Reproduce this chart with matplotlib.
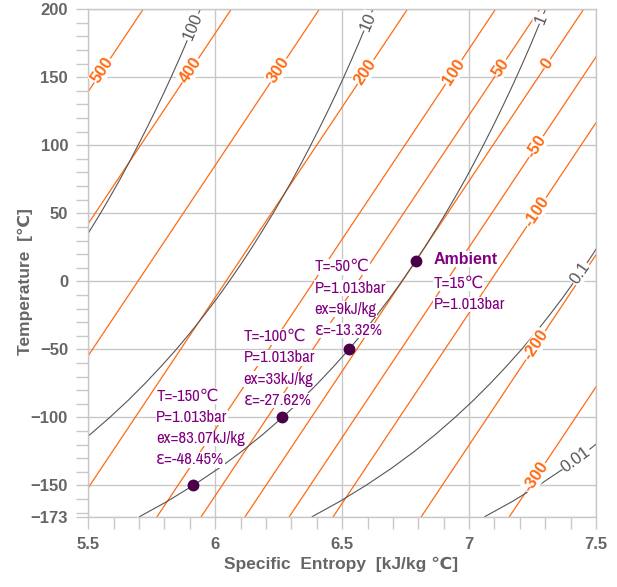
import numpy as np
import matplotlib.pyplot as plt
from matplotlib import font_manager

# ---------------------- DATOS ---------------------- #
# Temperaturas (°C) donde se leyeron las isobaras
T_grid = [-173, -162, -150, -137.5, -125, -112.5, -100, -87.5, -75, -62.5, -50, -37.5, -25, -12.5, 0,
          12.5, 25, 37.5, 50, 62.5, 75, 87.5, 100, 112.5, 125, 137.5, 150, 162.5, 175, 187.5, 200]

# Entropia (kJ/kg°C) de cada isobara en T_grid
s_p100 = [4.342, 4.449, 4.554, 4.654, 4.745, 4.828, 4.905, 4.977, 5.044, 5.107, 5.167, 5.223, 5.276, 5.327, 5.375,
          5.421, 5.465, 5.507, 5.548, 5.587, 5.625, 5.661, 5.696, 5.730, 5.763, 5.795, 5.826, 5.856, 5.885, 5.913, 5.941]
s_p10 = [5.022, 5.129, 5.234, 5.334, 5.425, 5.508, 5.585, 5.657, 5.724, 5.787, 5.847, 5.903, 5.956, 6.007, 6.055,
         6.101, 6.145, 6.187, 6.228, 6.267, 6.305, 6.341, 6.376, 6.410, 6.443, 6.475, 6.506, 6.536, 6.565, 6.593, 6.621]
s_p1 = [5.702, 5.809, 5.914, 6.014, 6.105, 6.188, 6.265, 6.337, 6.404, 6.467, 6.527, 6.583, 6.636, 6.687, 6.735,
        6.781, 6.825, 6.867, 6.908, 6.947, 6.985, 7.021, 7.056, 7.090, 7.123, 7.155, 7.186, 7.216, 7.245, 7.273, 7.301]
s_p01 = [6.382, 6.489, 6.594, 6.694, 6.785, 6.868, 6.945, 7.017, 7.084, 7.147, 7.207, 7.263, 7.316, 7.367, 7.415,
         7.461, 7.505, 7.547, 7.588, 7.627, 7.665, 7.701, 7.736, 7.770, 7.803, 7.835, 7.866, 7.896, 7.925, 7.953, 7.981]
s_p001 = [7.062, 7.169, 7.274, 7.374, 7.465, 7.548, 7.625, 7.697, 7.764, 7.827, 7.887, 7.943, 7.996, 8.047, 8.095,
          8.141, 8.185, 8.227, 8.268, 8.307, 8.345, 8.381, 8.416, 8.450, 8.483, 8.515, 8.546, 8.576, 8.605, 8.633, 8.661]
p_labels = ["100", "10", "1", "0.1", "0.01"]
p_label_T = [187, 191, 193, 6, -131]   # donde va cada etiqueta

# Lineas de exergia constante (rectas): entropia en T=-173 y T=200
ex_values = [500, 400, 300, 200, 100, 50, 0, -50, -100, -200, -300]
ex_s_bot = [4.383, 4.730, 5.077, 5.424, 5.771, 5.945, 6.118, 6.292, 6.465, 6.812, 7.159]
ex_s_top = [5.716, 6.063, 6.410, 6.757, 7.104, 7.278, 7.451, 7.625, 7.798, 8.145, 8.492]
ex_T_ends = [-173, 200]
ex_label_T = [155, 155, 155, 154, 154, 157, 160, 99, 51, -47, -144]

# Puntos de estado
pt_T = [-150, -100, -50, 15]
pt_s = [5.912, 6.265, 6.527, 6.789]
pt_text = [["T=-150\u2103", "P=1.013bar", "ex=83.07kJ/kg", "\u03b5=-48.45%"],
           ["T=-100\u2103", "P=1.013bar", "ex=33kJ/kg", "\u03b5=-27.62%"],
           ["T=-50\u2103", "P=1.013bar", "ex=9kJ/kg", "\u03b5=-13.32%"],
           ["T=15\u2103", "P=1.013bar"]]
txt_s = [5.768, 6.112, 6.392, 6.86]
txt_T = [-84.4, -40.7, 10.7, -1.5]   # centro de la primera linea

y_major = [200, 150, 100, 50, 0, -50, -100, -150, -173]
x_major = [5.5, 6, 6.5, 7, 7.5]
x_labels = ["5.5", "6", "6.5", "7", "7.5"]

# ---------------------- ESTILO ---------------------- #
names = {f.name for f in font_manager.fontManager.ttflist}
if 'Liberation Sans Narrow' in names:
    fam_n, stretch_n = ['Liberation Sans Narrow', 'DejaVu Sans'], 'normal'
elif 'Archivo Narrow' in names:
    fam_n, stretch_n = ['Archivo Narrow', 'DejaVu Sans'], 'normal'
else:
    fam_n, stretch_n = ['DejaVu Sans'], 'condensed'
fam_b = ['Liberation Sans', 'DejaVu Sans']

ORANGE = '#FF6A13'
GRAYLINE = '#555555'
PURPLE = '#800080'
DOT = '#4A0048'
AXC = '#666666'
GRID = '#C8C8C8'

fig = plt.figure(figsize=(6.17, 5.87), dpi=100)
ax = fig.add_axes([0.1431, 0.1199, 0.966 - 0.1431, 0.9842 - 0.1199])
ax.set_xlim(5.5, 7.5)
ax.set_ylim(-173, 200)

def screen_angle(s_a, T_a, s_b, T_b):
    p = ax.transData.transform([(s_a, T_a), (s_b, T_b)])
    return np.degrees(np.arctan2(p[1, 1] - p[0, 1], p[1, 0] - p[0, 0]))

# Lineas de exergia
for ex, sb, st, tl in zip(ex_values, ex_s_bot, ex_s_top, ex_label_T):
    ax.plot([sb, st], ex_T_ends, color=ORANGE, lw=0.9, zorder=2)
    sl = sb + (tl - ex_T_ends[0]) / (ex_T_ends[1] - ex_T_ends[0]) * (st - sb)
    ang = screen_angle(sb, ex_T_ends[0], st, ex_T_ends[1])
    ax.text(sl, tl, str(ex), color=ORANGE, fontsize=12, fontweight='bold', family=fam_b,
            rotation=ang, rotation_mode='anchor', ha='center', va='center', zorder=4,
            bbox=dict(facecolor='white', edgecolor='none', pad=0.5))

# Isobaras
for s_list, lab, tl in zip([s_p100, s_p10, s_p1, s_p01, s_p001], p_labels, p_label_T):
    ax.plot(s_list, T_grid, color=GRAYLINE, lw=0.8, zorder=2)
    sl = np.interp(tl, T_grid, s_list)
    ang = screen_angle(np.interp(tl - 8, T_grid, s_list), tl - 8, np.interp(tl + 8, T_grid, s_list), tl + 8)
    ax.text(sl, tl, lab, color=GRAYLINE, fontsize=12, family=fam_b,
            rotation=ang, rotation_mode='anchor', ha='center', va='center', zorder=4,
            bbox=dict(facecolor='white', edgecolor='none', pad=0.5))

# Puntos de estado y textos (una linea cada 21 px)
ax.plot(pt_s, pt_T, 'o', color=DOT, ms=7.5, zorder=6)
for s, t, lines in zip(txt_s, txt_T, pt_text):
    for i, line in enumerate(lines):
        ax.annotate(line, (s, t), xytext=(0, -i * 15.3), textcoords='offset points',
                    color=PURPLE, fontsize=12, family=fam_n, fontstretch=stretch_n,
                    ha='left', va='center', zorder=5,
                    bbox=dict(facecolor='white', edgecolor='none', pad=0.2))
ax.text(6.86, 16.2, "Ambient", color=PURPLE, fontsize=11.5, fontweight='bold', family=fam_b,
        ha='left', va='center', zorder=5, bbox=dict(facecolor='white', edgecolor='none', pad=0.3))

# Ejes
ax.set_yticks(y_major)
ax.set_yticks(np.arange(-170, 200, 10), minor=True)
ax.set_xticks(x_major)
ax.set_xticklabels(x_labels)
ax.set_xticks(np.arange(5.5, 7.51, 0.1), minor=True)
ax.tick_params(which='both', direction='out', length=8.6, width=1, color=GRID,
               labelcolor=AXC, labelsize=12, pad=6)
for lab in ax.get_xticklabels() + ax.get_yticklabels():
    lab.set_fontweight('bold')
    lab.set_family(fam_b)
ax.grid(True, which='major', color=GRID, lw=1, zorder=0)
ax.set_axisbelow(True)
for sp in ax.spines.values():
    sp.set_color(GRID)
    sp.set_linewidth(1)

ax.set_xlabel("Specific  Entropy  [kJ/kg \u2103]", fontsize=12.5, fontweight='bold', color=AXC,
              family=fam_b)
ax.set_ylabel("Temperature  [\u2103]", fontsize=12.5, fontweight='bold', color=AXC,
              family=fam_b)
ax.xaxis.set_label_coords(0.497, -0.079)
ax.yaxis.set_label_coords(-0.109, 0.464)

fig.savefig("out.png", dpi=100)
